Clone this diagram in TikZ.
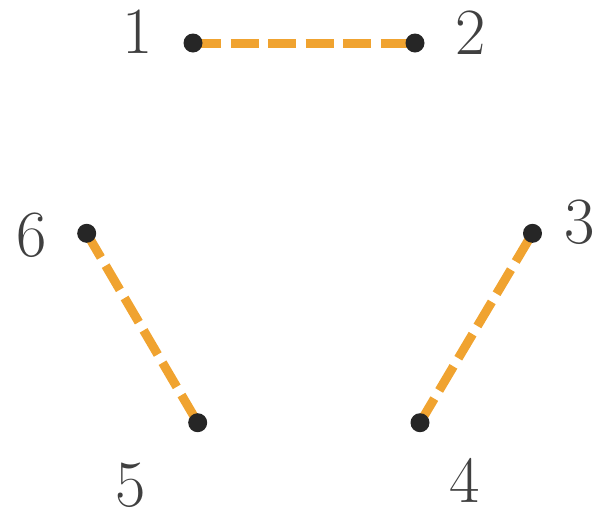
\documentclass[tikz,border=0pt]{standalone}
\usetikzlibrary{backgrounds}
\definecolor{edgeorange}{HTML}{F0A330}
\definecolor{dotblack}{HTML}{262626}
\definecolor{labelgray}{HTML}{404040}
\begin{document}
\begin{tikzpicture}[x=1pt,y=-1pt,
  vdot/.style={circle,fill=dotblack,inner sep=0pt,minimum size=19pt},
  vlabel/.style={inner sep=0pt,text=labelgray,font=\fontsize{66}{66}\selectfont},
  edgeline/.style={draw=edgeorange,line width=9pt,dash pattern=on 28pt off 9.5pt}]
\useasboundingbox (0,0) rectangle (598,515);
\node[vdot] (v1) at (193,43) {};
\node[vdot] (v2) at (415,43) {};
\node[vdot] (v3) at (532.5,233.3) {};
\node[vdot] (v4) at (420,422.7) {};
\node[vdot] (v5) at (197.7,422.7) {};
\node[vdot] (v6) at (86.7,233.3) {};
\begin{scope}[on background layer]
\path[edgeline] (v1.center) -- (v2.center);
\path[edgeline] (v4.center) -- (v3.center);
\path[edgeline] (v6.center) -- (v5.center);
\end{scope}
\node[vlabel] (l1) at (138,32) {1};
\node[vlabel] (l2) at (471,33) {2};
\node[vlabel] (l3) at (580,222) {3};
\node[vlabel] (l4) at (465,480) {4};
\node[vlabel] (l5) at (131,485.5) {5};
\node[vlabel] (l6) at (32,235) {6};
\end{tikzpicture}
\end{document}
